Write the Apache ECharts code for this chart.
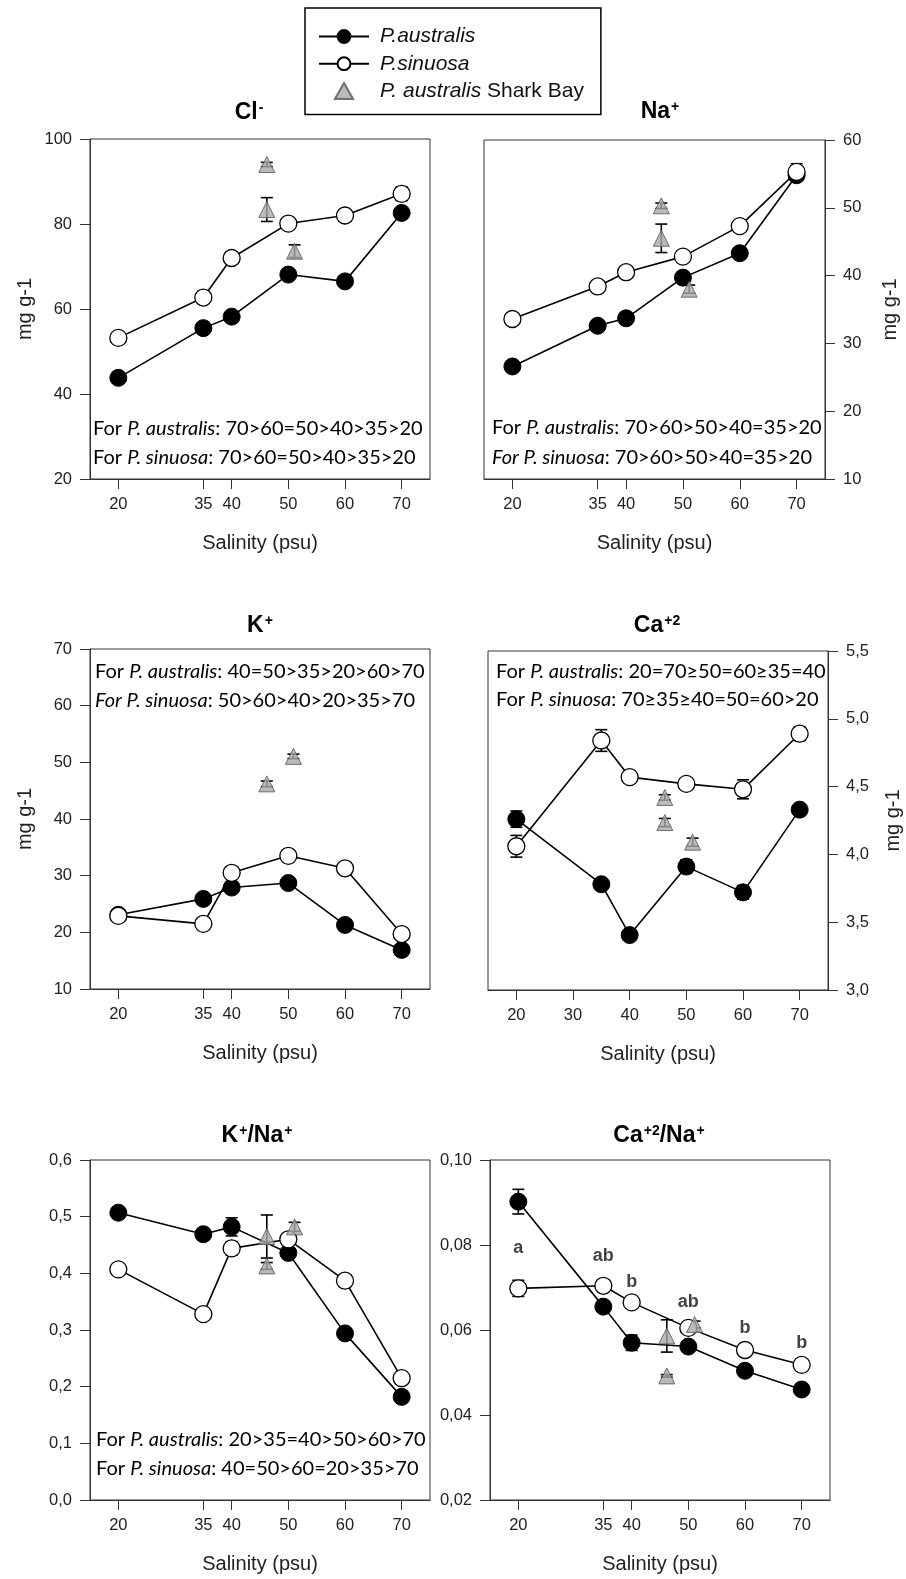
<!DOCTYPE html>
<html>
<head>
<meta charset="utf-8">
<script src="https://cdn.jsdelivr.net/npm/echarts@6/dist/echarts.min.js"></script>
<style>
  body { margin: 0; background: #fff; }
  #chart { width: 906px; height: 1579px; }
</style>
</head>
<body>
<div id="chart"></div>
<script>
// salinity treatments (psu)
const salinity = [20, 35, 40, 50, 60, 70];
const sharkBaySal = [46.2, 46.2, 51.1];
const kSharkBaySal = [46.2, 50.9];

// Cl-
const clAustralis = [43.8, 55.5, 58.2, 68.1, 66.5, 82.6];
const clAustralisErr = [0.6, 0.5, 0.6, 0.8, 0.6, 0.8];
const clSinuosa = [53.2, 62.7, 72.0, 80.1, 82.0, 87.1];
const clSinuosaErr = [0.5, 0.5, 0.5, 0.5, 0.5, 1.6];
const clShark = [94.0, 83.4, 73.6];
const clSharkErr = [0.5, 2.8, 1.5];

// Na+
const naAustralis = [26.6, 32.6, 33.7, 39.7, 43.3, 54.8];
const naAustralisErr = [0.5, 0.5, 0.6, 0.6, 0.5, 0.5];
const naSinuosa = [33.6, 38.4, 40.5, 42.8, 47.3, 55.3];
const naSinuosaErr = [0.3, 0.3, 0.3, 0.3, 0.3, 1.2];
const naShark = [50.3, 45.5, 38.0];
const naSharkErr = [0.4, 2.1, 0.6];

// K+
const kAustralis = [23.1, 25.9, 27.9, 28.7, 21.3, 16.9];
const kAustralisErr = [0.3, 0.4, 0.5, 0.4, 0.4, 0.3];
const kSinuosa = [22.9, 21.5, 30.5, 33.5, 31.3, 19.7];
const kSinuosaErr = [0.3, 0.3, 0.4, 0.4, 0.4, 0.3];
const kShark = [46.2, 51.05];
const kSharkErr = [0.5, 0.4];

// Ca+2
const caAustralis = [4.26, 3.78, 3.405, 3.91, 3.72, 4.33];
const caAustralisErr = [0.06, 0.02, 0.03, 0.05, 0.05, 0.02];
const caSinuosa = [4.06, 4.84, 4.57, 4.52, 4.48, 4.89];
const caSinuosaErr = [0.08, 0.08, 0.03, 0.02, 0.07, 0.05];
const caShark = [4.42, 4.235, 4.09];
const caSharkErr = [0.02, 0.03, 0.03];

// K+/Na+
const knAustralis = [0.507, 0.469, 0.482, 0.436, 0.294, 0.182];
const knAustralisErr = [0.008, 0.01, 0.016, 0.006, 0.008, 0.005];
const knSinuosa = [0.407, 0.328, 0.444, 0.460, 0.387, 0.215];
const knSinuosaErr = [0.005, 0.006, 0.012, 0.005, 0.005, 0.01];
const knShark = [0.465, 0.413, 0.482];
const knSharkErr = [0.038, 0.006, 0.008];

// Ca+2/Na+
const cnAustralis = [0.0902, 0.0655, 0.0570, 0.0561, 0.0504, 0.0460];
const cnAustralisErr = [0.0029, 0.0006, 0.0018, 0.0008, 0.0005, 0.0005];
const cnSinuosa = [0.0698, 0.0704, 0.0665, 0.0605, 0.0553, 0.0518];
const cnSinuosaErr = [0.0019, 0.0014, 0.0004, 0.0004, 0.0015, 0.0004];
const cnShark = [0.0586, 0.0492, 0.0613];
const cnSharkErr = [0.0038, 0.0003, 0.0008];
const cnLetters = ['a', 'ab', 'b', 'ab', 'b', 'b'];

const AUS = 'P.australis';
const SIN = 'P.sinuosa';
const SHK = 'P. australis Shark Bay';
const FONT = 'Liberation Sans';
const NOTE_FONT = 'Lato';

const chart = echarts.init(document.getElementById('chart'));

function pairs(xs, ys) {
  return ys.map((y, i) => [xs[i], y]);
}
function triples(xs, ys, es) {
  return ys.map((y, i) => [xs[i], y, es[i]]);
}

// error bars drawn through the axis scales
function renderErr(params, api) {
  const x = api.value(0), y = api.value(1), e = api.value(2);
  const hi = api.coord([x, y + e]);
  const lo = api.coord([x, y - e]);
  const w = 6;
  const st = { stroke: '#000', lineWidth: 1.6 };
  return {
    type: 'group',
    children: [
      { type: 'line', shape: { x1: hi[0], y1: hi[1], x2: lo[0], y2: lo[1] }, style: st },
      { type: 'line', shape: { x1: hi[0] - w, y1: hi[1], x2: hi[0] + w, y2: hi[1] }, style: st },
      { type: 'line', shape: { x1: lo[0] - w, y1: lo[1], x2: lo[0] + w, y2: lo[1] }, style: st }
    ]
  };
}

const grids = [];
const xAxes = [];
const yAxes = [];
const series = [];

function addPanel(idx, box, y, xTicks, right, showName, decimals, d) {
  grids.push({
    left: box[0], top: box[1], width: box[2], height: box[3],
    show: true, borderColor: '#333', borderWidth: 1, backgroundColor: 'transparent'
  });
  xAxes.push({
    gridIndex: idx, type: 'value', min: 15, max: 75,
    name: 'Salinity (psu)', nameLocation: 'middle', nameGap: 54,
    nameTextStyle: { fontFamily: FONT, fontSize: 20, color: '#222' },
    axisLine: { show: true, onZero: false, lineStyle: { color: '#333', width: 1 } },
    axisTick: { show: true, length: 10, customValues: xTicks, lineStyle: { color: '#333' } },
    axisLabel: { show: true, customValues: xTicks, margin: 17, fontFamily: FONT, fontSize: 16.5, color: '#222' },
    splitLine: { show: false }
  });
  yAxes.push({
    gridIndex: idx, type: 'value', min: y[0], max: y[1], interval: y[2],
    position: right ? 'right' : 'left',
    name: showName ? 'mg g-1' : '', nameLocation: 'middle', nameGap: 55,
    nameTextStyle: { fontFamily: FONT, fontSize: 20, color: '#222' },
    axisLine: { show: true, lineStyle: { color: '#333', width: 1 } },
    axisTick: { show: true, length: 10, lineStyle: { color: '#333' } },
    axisLabel: {
      margin: 18, fontFamily: FONT, fontSize: 16.5, color: '#222',
      formatter: v => decimals ? v.toFixed(decimals).replace('.', ',') : String(v)
    },
    splitLine: { show: false }
  });
  const common = { xAxisIndex: idx, yAxisIndex: idx };
  series.push(
    Object.assign({ type: 'custom', name: 'errA' + idx, renderItem: renderErr, z: 1,
      encode: { x: 0, y: 1 }, data: triples(salinity, d.aus, d.ausErr) }, common),
    Object.assign({ type: 'custom', name: 'errS' + idx, renderItem: renderErr, z: 1,
      encode: { x: 0, y: 1 }, data: triples(salinity, d.sin, d.sinErr) }, common),
    Object.assign({ type: 'custom', name: 'errK' + idx, renderItem: renderErr, z: 1,
      encode: { x: 0, y: 1 }, data: triples(d.sharkX, d.shark, d.sharkErr) }, common),
    Object.assign({
      type: 'line', name: AUS, data: pairs(salinity, d.aus), z: 3,
      symbol: 'circle', symbolSize: 17, showSymbol: true,
      lineStyle: { color: '#000', width: 1.6 },
      itemStyle: { color: '#000', borderColor: '#000', borderWidth: 1 }
    }, common),
    Object.assign({
      type: 'line', name: SIN, data: pairs(salinity, d.sin), z: 4,
      symbol: 'circle', symbolSize: 17, showSymbol: true,
      lineStyle: { color: '#000', width: 1.6 },
      itemStyle: { color: '#fff', borderColor: '#000', borderWidth: 1.3 }
    }, common),
    Object.assign({
      type: 'scatter', name: SHK, data: pairs(d.sharkX, d.shark), z: 5,
      symbol: 'triangle', symbolSize: 16,
      itemStyle: { color: '#a9a9a9', borderColor: '#555', borderWidth: 1 }
    }, common)
  );
}

const xs = [20, 35, 40, 50, 60, 70];
const xsCa = [20, 30, 40, 50, 60, 70];

addPanel(0, [90, 139, 340, 340], [20, 100, 20], xs, false, true, 0,
  { aus: clAustralis, ausErr: clAustralisErr, sin: clSinuosa, sinErr: clSinuosaErr,
    sharkX: sharkBaySal, shark: clShark, sharkErr: clSharkErr });
addPanel(1, [484, 140, 341, 339], [10, 60, 10], xs, true, true, 0,
  { aus: naAustralis, ausErr: naAustralisErr, sin: naSinuosa, sinErr: naSinuosaErr,
    sharkX: sharkBaySal, shark: naShark, sharkErr: naSharkErr });
addPanel(2, [90, 649, 340, 340], [10, 70, 10], xs, false, true, 0,
  { aus: kAustralis, ausErr: kAustralisErr, sin: kSinuosa, sinErr: kSinuosaErr,
    sharkX: kSharkBaySal, shark: kShark, sharkErr: kSharkErr });
addPanel(3, [488, 651, 340, 339], [3, 5.5, 0.5], xsCa, true, true, 1,
  { aus: caAustralis, ausErr: caAustralisErr, sin: caSinuosa, sinErr: caSinuosaErr,
    sharkX: sharkBaySal, shark: caShark, sharkErr: caSharkErr });
addPanel(4, [90, 1160, 340, 340], [0, 0.6, 0.1], xs, false, false, 1,
  { aus: knAustralis, ausErr: knAustralisErr, sin: knSinuosa, sinErr: knSinuosaErr,
    sharkX: sharkBaySal, shark: knShark, sharkErr: knSharkErr });
addPanel(5, [490, 1160, 340, 340], [0.02, 0.10, 0.02], xs, false, false, 2,
  { aus: cnAustralis, ausErr: cnAustralisErr, sin: cnSinuosa, sinErr: cnSinuosaErr,
    sharkX: sharkBaySal, shark: cnShark, sharkErr: cnSharkErr });

// significance letters above P. sinuosa in Ca/Na panel
const letterGap = [31, 21, 11, 17, 13, 13];
series.push({
  type: 'scatter', name: 'letters', xAxisIndex: 5, yAxisIndex: 5, z: 6,
  symbolSize: 0, silent: true,
  data: cnSinuosa.map((v, i) => ({
    value: [salinity[i], v],
    label: { distance: letterGap[i] }
  })),
  label: {
    show: true, position: 'top',
    formatter: p => cnLetters[p.dataIndex],
    fontFamily: FONT, fontSize: 18, fontWeight: 'bold', color: '#111'
  }
});

const titleRich = {
  b: { fontFamily: FONT, fontSize: 23, fontWeight: 'bold', color: '#111' },
  s: { fontFamily: FONT, fontSize: 14, fontWeight: 'bold', color: '#111', verticalAlign: 'top', padding: [0, 0, 9, 1] }
};
function title(x, y, text) {
  return { type: 'text', x: x, y: y, style: { text: text, rich: titleRich, align: 'center', verticalAlign: 'middle' } };
}
const noteRich = {
  n: { fontFamily: NOTE_FONT, fontSize: 20, color: '#222' },
  i: { fontFamily: NOTE_FONT, fontSize: 20, fontStyle: 'italic', color: '#222' }
};
function note(x, y, text) {
  return { type: 'text', x: x, y: y, style: { text: text, rich: noteRich, align: 'left', verticalAlign: 'middle' } };
}

const option = {
  animation: false,
  backgroundColor: '#fff',
  legend: {
    data: [AUS, SIN, { name: SHK, icon: 'path://M8,0L16,14L0,14Z' }],
    orient: 'vertical', left: 305, top: 8,
    padding: [18, 17, 13, 13], itemGap: 6.2,
    itemWidth: 50, itemHeight: 16,
    borderColor: '#000', borderWidth: 1.5,
    textStyle: {
      fontFamily: FONT, fontSize: 21, fontStyle: 'italic', color: '#111', padding: [0, 0, 0, 6],
      rich: { n: { fontFamily: FONT, fontSize: 21, fontStyle: 'normal', color: '#111' } }
    },
    formatter: name => name === SHK ? 'P. australis {n|Shark Bay}' : name
  },
  grid: grids,
  xAxis: xAxes,
  yAxis: yAxes,
  series: series,
  graphic: [
    title(249, 113, '{b|Cl}{s|-}'),
    title(660, 112, '{b|Na}{s|+}'),
    title(260, 626, '{b|K}{s|+}'),
    title(657, 626, '{b|Ca}{s|+2}'),
    title(257, 1136, '{b|K}{s|+}{b|/Na}{s|+}'),
    title(659, 1136, '{b|Ca}{s|+2}{b|/Na}{s|+}'),
    note(93, 429, '{n|For }{i|P. australis}{n|: 70>60=50>40>35>20}'),
    note(93, 458, '{n|For }{i|P. sinuosa}{n|: 70>60=50>40>35>20}'),
    note(492, 428, '{n|For }{i|P. australis}{n|: 70>60>50>40=35>20}'),
    note(492, 458, '{i|For P. sinuosa}{n|: 70>60>50>40=35>20}'),
    note(95, 672, '{n|For }{i|P. australis}{n|: 40=50>35>20>60>70}'),
    note(95, 701, '{i|For P. sinuosa}{n|: 50>60>40>20>35>70}'),
    note(496, 672, '{n|For }{i|P. australis}{n|: 20=70≥50=60≥35=40}'),
    note(496, 700, '{n|For }{i|P. sinuosa}{n|: 70≥35≥40=50=60>20}'),
    note(96, 1440, '{n|For }{i|P. australis}{n|: 20>35=40>50>60>70}'),
    note(96, 1469, '{n|For }{i|P. sinuosa}{n|: 40=50>60=20>35>70}')
  ]
};

chart.setOption(option);
</script>
</body>
</html>
